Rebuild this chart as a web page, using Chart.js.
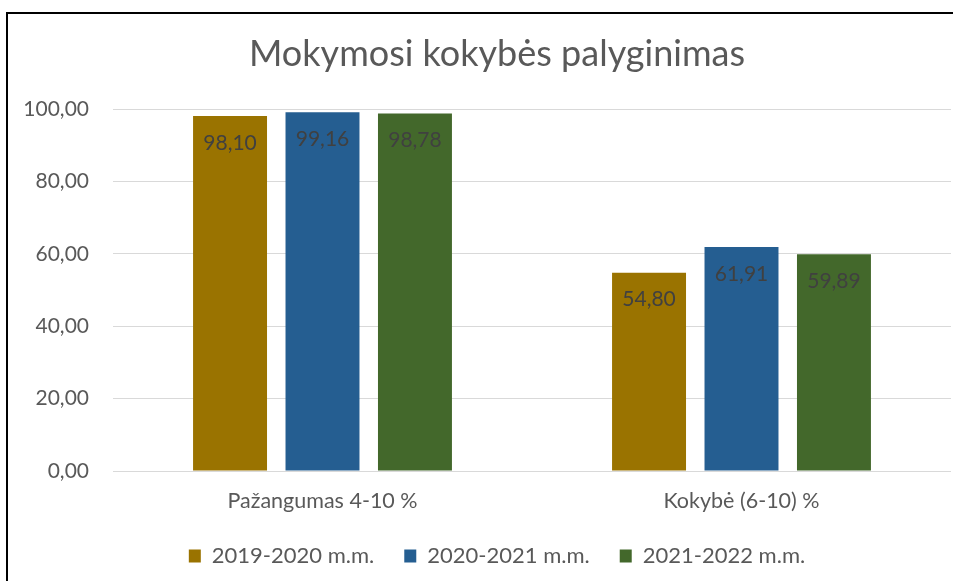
<!DOCTYPE html>
<html>
<head>
<meta charset="utf-8">
<script src="https://cdn.jsdelivr.net/npm/chart.js@4.4.0/dist/chart.umd.min.js"></script>
<style>
    html, body { margin: 0; padding: 0; background: #fff; overflow: hidden; }
    #wrap { position: relative; width: 953px; height: 581px; overflow: hidden; }
    #frame {
        position: absolute; left: 6px; top: 12px; width: 960px; height: 600px;
        border-left: 2px solid #000; border-top: 2px solid #000;
        pointer-events: none;
    }
    canvas { position: absolute; left: 0; top: 0; }
</style>
</head>
<body>
<div id="wrap">
    <canvas id="chart" width="988" height="581"></canvas>
    <div id="frame"></div>
</div>
<script>
// Datos del gráfico
const categorias = ['Pažangumas 4-10 %', 'Kokybė (6-10) %'];
const serieNombres = ['2019-2020 m.m.', '2020-2021 m.m.', '2021-2022 m.m.'];
const valores2019 = [98.10, 54.80];
const valores2020 = [99.16, 61.91];
const valores2021 = [98.78, 59.89];
const colores = ['#9A7300', '#255E91', '#43682B'];
const yTicks = [0, 20, 40, 60, 80, 100];

const fuente = 'Lato';
const formato = v => v.toFixed(2).replace('.', ',');

// Etiquetas de datos dentro del extremo de cada barra
const etiquetasPlugin = {
    id: 'etiquetas',
    afterDatasetsDraw(chart) {
        const ctx = chart.ctx;
        ctx.save();
        ctx.font = '21px ' + fuente;
        ctx.fillStyle = '#404040';
        ctx.textAlign = 'center';
        ctx.textBaseline = 'middle';
        chart.data.datasets.forEach((ds, i) => {
            chart.getDatasetMeta(i).data.forEach((bar, j) => {
                ctx.fillText(formato(ds.data[j]), bar.x, bar.y + 27);
            });
        });
        ctx.restore();
    }
};

const datos = [valores2019, valores2020, valores2021];

new Chart(document.getElementById('chart'), {
    type: 'bar',
    data: {
        labels: categorias,
        datasets: serieNombres.map((nombre, i) => ({
            label: nombre,
            data: datos[i],
            backgroundColor: colores[i],
            borderWidth: 0,
            categoryPercentage: 0.662,
            barPercentage: 0.8
        }))
    },
    options: {
        responsive: false,
        animation: false,
        devicePixelRatio: 1,
        layout: { padding: { left: 6, right: 0, top: 0, bottom: 4 } },
        plugins: {
            title: {
                display: true,
                text: 'Mokymosi kokybės palyginimas',
                color: '#595959',
                font: { family: fuente, size: 36, weight: 'normal' },
                padding: { top: 33, bottom: 33 }
            },
            legend: {
                position: 'bottom',
                labels: {
                    color: '#595959',
                    font: { family: fuente, size: 22 },
                    boxWidth: 12,
                    boxHeight: 13,
                    padding: 30
                }
            },
            tooltip: { enabled: false }
        },
        scales: {
            x: {
                grid: { display: false, drawTicks: false },
                border: { display: false },
                ticks: {
                    color: '#595959',
                    font: { family: fuente, size: 21.5 },
                    padding: 17
                },
                afterFit(scale) { scale.height = 44; }
            },
            y: {
                min: 0,
                max: 100,
                afterBuildTicks(scale) { scale.ticks = yTicks.map(v => ({ value: v })); },
                grid: { color: '#d9d9d9', lineWidth: 1, drawTicks: false },
                border: { display: false },
                ticks: {
                    color: '#595959',
                    font: { family: fuente, size: 21 },
                    padding: 24,
                    callback: v => formato(v)
                },
                afterFit(scale) { scale.width = 107; }
            },
            // eje vacío a la derecha para dejar el margen del gráfico original
            yDer: {
                position: 'right',
                grid: { display: false, drawTicks: false },
                border: { display: false },
                ticks: { display: false },
                afterFit(scale) { scale.width = 37; }
            }
        }
    },
    plugins: [etiquetasPlugin]
});
</script>
</body>
</html>
